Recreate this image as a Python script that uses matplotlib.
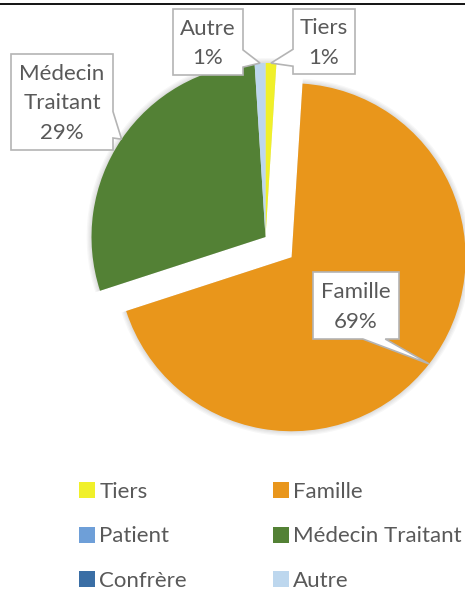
import matplotlib

matplotlib.use("Agg")
import matplotlib.pyplot as plt
from matplotlib.lines import Line2D
from matplotlib.patches import Polygon, Wedge
import numpy as np

plt.rcParams["font.family"] = ["Lato", "DejaVu Sans"]

# data
categories = ["Tiers", "Famille", "Patient", "Médecin Traitant", "Confrère", "Autre"]
values = [1, 69, 0, 29, 0, 1]
colors = ["#F0F02A", "#E9961B", "#6E9FD8", "#538135", "#3A6EA5", "#BDD7EE"]
explode = [0, 0.19, 0, 0, 0, 0]
callout_names = {"Médecin Traitant": "Médecin\nTraitant"}

# layout (pixels of the 465x594 image)
W, H = 465, 594
CX, CY, RPX = 265.5, 237.0, 174.0
TXT = "#595959"
EDGE = "#B4B4B4"
FS = 16

# callout boxes: (left, top, right, bottom) in px, side of the pointer, pointer base fractions
boxes = {
    "Tiers": ((293, 9, 355, 74), "left", (0.62, 0.88)),
    "Autre": ((173, 9, 243, 75), "right", (0.62, 0.88)),
    "Médecin Traitant": ((11, 54, 113, 150), "right", (0.60, 0.875)),
    "Famille": ((313, 272, 399, 339), "bottom", (0.58, 0.84)),
}


def px(x, y):
    return ((x - CX) / RPX, (CY - y) / RPX)


def callout_poly(rect, side, base, tip):
    x0, yt = px(rect[0], rect[1])
    x1, yb = px(rect[2], rect[3])
    w, h = x1 - x0, yt - yb
    f0, f1 = base
    if side == "bottom":
        pts = [(x0, yt), (x1, yt), (x1, yb), (x0 + f1 * w, yb), tip, (x0 + f0 * w, yb), (x0, yb)]
    elif side == "right":
        pts = [(x0, yt), (x1, yt), (x1, yt - f0 * h), tip, (x1, yt - f1 * h), (x1, yb), (x0, yb)]
    else:
        pts = [(x0, yt), (x1, yt), (x1, yb), (x0, yb), (x0, yt - f1 * h), tip, (x0, yt - f0 * h)]
    return pts, ((x0 + x1) / 2, (yt + yb) / 2)


fig = plt.figure(figsize=(W / 100, H / 100), dpi=100)
ax = fig.add_axes([0, 0, 1, 1])

wedges, _ = ax.pie(
    values,
    colors=colors,
    startangle=90,
    counterclock=False,
    explode=explode,
    radius=1,
    wedgeprops=dict(linewidth=0),
)
for wdg in wedges:
    wdg.set_zorder(3)

# soft shadow behind the slices
for wdg, v in zip(wedges, values):
    if v == 0:
        continue
    for k in range(4):
        ax.add_patch(Wedge(wdg.center, wdg.r + 0.007 * (k + 1), wdg.theta1, wdg.theta2,
                           color="black", alpha=0.03, lw=0, zorder=2))

total = sum(values)
for wdg, cat, v in zip(wedges, categories, values):
    if cat not in boxes:
        continue
    rect, side, base = boxes[cat]
    mid = np.deg2rad((wdg.theta1 + wdg.theta2) / 2)
    tip = (wdg.center[0] + wdg.r * np.cos(mid), wdg.center[1] + wdg.r * np.sin(mid))
    pts, c = callout_poly(rect, side, base, tip)
    ax.add_patch(Polygon(pts, closed=True, fc="white", ec=EDGE, lw=1.2, zorder=5))
    label = f"{callout_names.get(cat, cat)}\n{round(v / total * 100)}%"
    ax.text(c[0], c[1] - 1.5 / RPX, label, ha="center", va="center", fontsize=FS, color=TXT,
            linespacing=1.62, zorder=6)

ax.set_xlim(-CX / RPX, (W - CX) / RPX)
ax.set_ylim(-(H - CY) / RPX, CY / RPX)
ax.set_aspect("equal")
ax.axis("off")

order = [0, 2, 4, 1, 3, 5]
fig.legend(
    [wedges[i] for i in order],
    [categories[i] for i in order],
    ncol=2,
    loc="upper left",
    bbox_to_anchor=(79 / W, 1 - 482 / H),
    frameon=False,
    fontsize=FS,
    labelcolor=TXT,
    handlelength=0.72,
    handleheight=0.72,
    handletextpad=0.2,
    labelspacing=1.1,
    columnspacing=3.85,
    borderpad=0,
    borderaxespad=0,
)

fig.add_artist(Line2D([0, 1], [1 - 3.5 / H, 1 - 3.5 / H], transform=fig.transFigure,
                      color="black", lw=1.3))

fig.savefig("out.png", dpi=100)
